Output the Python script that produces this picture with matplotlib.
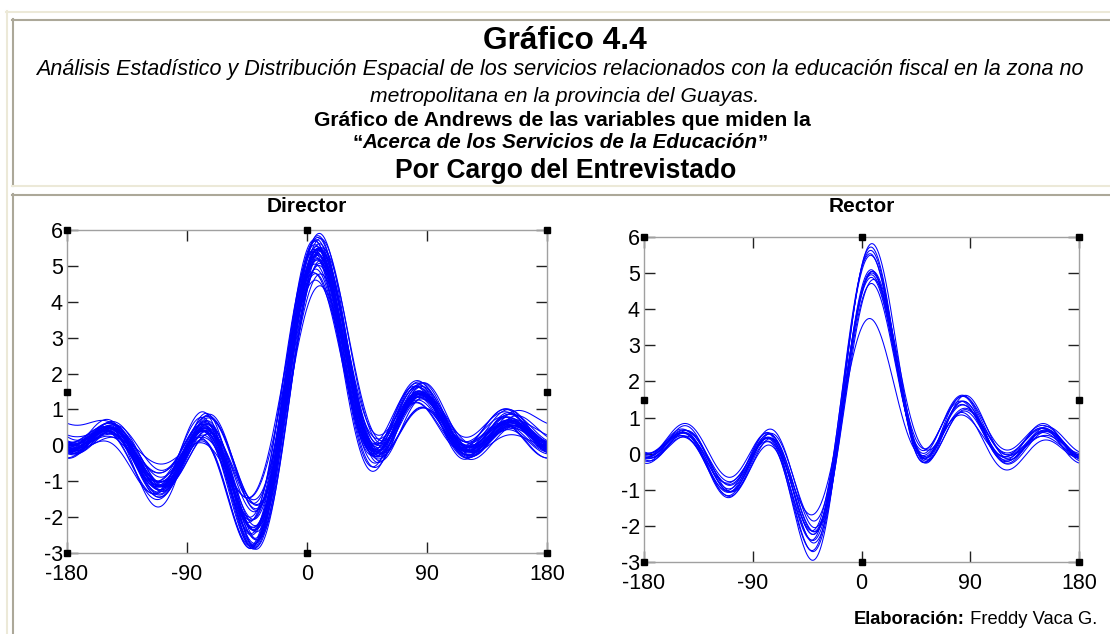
import numpy as np
import matplotlib.pyplot as plt

plt.rcParams['font.family'] = ['Liberation Sans', 'DejaVu Sans']
plt.rcParams['axes.unicode_minus'] = False

# Variables of the survey block, one row per respondent
director = [
    [0.91, 0.75, 1.04, 0.43, 0.96, 0.26, 0.87, 0.58, 0.96, 0.59, 0.81],
    [0.65, 0.97, 0.63, 0.35, 0.63, 0.52, 0.71, 0.47, 1.13, 0.23, 0.99],
    [1.01, 0.70, 0.91, 0.38, 1.03, 0.50, 0.74, 0.78, 0.91, 0.55, 0.87],
    [0.60, 0.84, 0.58, 0.40, 0.87, 0.39, 0.91, 0.42, 1.09, 0.29, 1.09],
    [0.72, 0.49, 0.82, 0.46, 0.74, 0.54, 0.53, 0.58, 0.81, 0.49, 0.66],
    [0.56, 0.92, 0.83, 0.52, 1.08, 0.35, 0.88, 0.49, 1.20, 0.25, 0.97],
    [0.90, 0.84, 0.80, 0.77, 0.80, 0.61, 0.70, 0.79, 0.87, 0.47, 0.72],
    [0.71, 0.70, 0.94, 0.38, 0.95, 0.32, 0.89, 0.35, 0.98, 0.11, 0.95],
    [0.72, 0.99, 0.70, 0.68, 0.81, 0.66, 0.60, 0.61, 0.77, 0.49, 0.91],
    [0.81, 0.55, 0.80, 0.34, 0.95, 0.17, 0.66, 0.20, 0.95, 0.25, 0.72],
    [0.68, 0.96, 0.77, 0.55, 0.77, 0.54, 0.56, 0.69, 1.02, 0.37, 1.12],
    [0.66, 0.80, 0.63, 0.47, 0.85, 0.69, 0.66, 0.57, 1.05, 0.22, 1.04],
    [0.83, 0.59, 0.95, 0.49, 1.09, 0.34, 0.73, 0.59, 0.79, 0.49, 0.77],
    [0.50, 0.89, 0.70, 0.71, 0.72, 0.39, 0.73, 0.31, 1.04, 0.20, 0.92],
    [0.96, 0.80, 1.08, 0.50, 0.93, 0.55, 0.61, 0.72, 0.91, 0.51, 0.75],
    [0.74, 1.05, 0.74, 0.58, 0.96, 0.30, 0.89, 0.46, 1.09, 0.21, 1.08],
    [0.87, 0.59, 0.70, 0.49, 0.59, 0.46, 0.51, 0.52, 0.67, 0.42, 0.74],
    [0.67, 0.81, 0.87, 0.38, 1.01, 0.34, 0.83, 0.36, 1.14, 0.34, 1.13],
    [0.80, 0.89, 0.67, 0.71, 0.80, 0.57, 0.58, 0.74, 0.97, 0.64, 0.84],
    [0.77, 0.58, 0.89, 0.39, 0.92, 0.21, 0.85, 0.46, 1.16, 0.24, 0.86],
    [0.58, 0.92, 0.69, 0.63, 0.68, 0.60, 0.69, 0.77, 0.88, 0.38, 0.95],
    [0.73, 0.53, 0.74, 0.35, 0.88, 0.25, 0.81, 0.30, 0.83, 0.28, 0.57],
    [0.86, 0.80, 0.95, 0.52, 0.95, 0.38, 0.83, 0.59, 1.00, 0.51, 0.88],
    [0.73, 0.91, 0.75, 0.59, 0.78, 0.51, 0.75, 0.54, 1.08, 0.33, 0.97],
    [0.82, 0.69, 0.80, 0.40, 0.89, 0.41, 0.68, 0.60, 0.88, 0.40, 0.82],
    [0.74, 0.88, 0.75, 0.65, 0.93, 0.48, 0.88, 0.54, 1.09, 0.39, 1.05],
    [0.82, 0.72, 0.89, 0.58, 0.89, 0.57, 0.71, 0.64, 0.97, 0.51, 0.86],
    [0.64, 0.84, 0.80, 0.52, 0.96, 0.38, 0.79, 0.50, 1.07, 0.30, 0.92],
    [0.83, 0.82, 0.81, 0.66, 0.84, 0.53, 0.72, 0.67, 0.93, 0.43, 0.81],
    [0.69, 0.71, 0.83, 0.42, 0.87, 0.34, 0.77, 0.41, 0.94, 0.20, 0.88],
    [0.78, 0.93, 0.79, 0.65, 0.88, 0.59, 0.71, 0.62, 0.91, 0.47, 0.94],
    [0.85, 0.74, 0.87, 0.51, 0.98, 0.38, 0.77, 0.44, 1.03, 0.38, 0.88],
    [0.73, 0.89, 0.80, 0.68, 0.84, 0.51, 0.66, 0.63, 1.01, 0.39, 1.02],
    [0.77, 0.81, 0.82, 0.56, 0.89, 0.46, 0.75, 0.56, 0.99, 0.39, 0.91],
    [0.72, 0.78, 0.79, 0.53, 0.86, 0.43, 0.72, 0.53, 0.96, 0.36, 0.88],
    [0.79, 0.80, 0.83, 0.55, 0.90, 0.46, 0.76, 0.55, 1.00, 0.38, 0.92],
    [0.75, 0.79, 0.80, 0.54, 0.87, 0.44, 0.73, 0.54, 0.97, 0.37, 0.89],
    [0.80, 0.75, 0.55, 0.60, 0.95, 0.50, 0.55, 0.55, 1.00, 0.40, 0.80],
]

rector = [
    [0.89, 0.79, 0.91, 0.60, 0.93, 0.42, 0.85, 0.61, 0.95, 0.54, 0.90],
    [0.76, 0.87, 0.71, 0.72, 0.91, 0.51, 0.90, 0.55, 1.04, 0.41, 1.07],
    [0.70, 0.85, 0.80, 0.64, 0.97, 0.45, 0.84, 0.56, 1.05, 0.36, 0.97],
    [0.78, 0.78, 0.86, 0.56, 0.92, 0.45, 0.86, 0.49, 0.96, 0.30, 0.97],
    [0.88, 0.70, 0.82, 0.59, 0.95, 0.41, 0.78, 0.46, 0.97, 0.40, 0.89],
    [0.73, 0.73, 0.71, 0.57, 0.80, 0.43, 0.70, 0.51, 0.87, 0.35, 0.86],
    [0.80, 0.67, 0.75, 0.44, 0.84, 0.42, 0.69, 0.59, 0.80, 0.40, 0.81],
    [0.79, 0.70, 0.68, 0.67, 0.72, 0.50, 0.64, 0.62, 0.78, 0.39, 0.73],
    [0.65, 0.78, 0.65, 0.64, 0.72, 0.43, 0.58, 0.54, 0.86, 0.31, 0.93],
    [0.56, 0.56, 0.54, 0.40, 0.63, 0.26, 0.53, 0.34, 0.70, 0.18, 0.69],
    [0.75, 0.98, 0.72, 0.58, 0.80, 0.45, 0.71, 0.52, 0.87, 0.36, 0.86],
    [0.70, 0.50, 0.70, 0.72, 0.78, 0.42, 0.70, 0.50, 0.86, 0.34, 0.85],
    [0.73, 0.88, 0.68, 0.63, 0.72, 0.51, 0.73, 0.52, 0.99, 0.32, 0.94],
    [0.75, 0.60, 0.78, 0.56, 0.79, 0.53, 0.65, 0.58, 0.84, 0.46, 0.80],
]

panel_titles = ['Director', 'Rector']
xticks = [-180, -90, 0, 90, 180]
yticks = [-3, -2, -1, 0, 1, 2, 3, 4, 5, 6]

W, H = 1110, 634


def fx(px):
    return px / W


def fy(py):
    return 1 - py / H


def andrews(rows, deg):
    # f(t) = x1/sqrt(2) + x2 sin t + x3 cos t + x4 sin 2t + x5 cos 2t + ...
    t = np.deg2rad(deg)
    X = np.asarray(rows, float)
    cols = [np.full_like(t, 1 / np.sqrt(2))]
    k = 1
    while len(cols) < X.shape[1]:
        cols.append(np.sin(k * t))
        if len(cols) < X.shape[1]:
            cols.append(np.cos(k * t))
        k += 1
    return X @ np.vstack(cols)


fig = plt.figure(figsize=(W / 100, H / 100), dpi=100)

# table-like frame of the page
bg = fig.add_axes([0, 0, 1, 1])
bg.set_xlim(0, W)
bg.set_ylim(H, 0)
bg.axis('off')
beige, grey = '#ECE9D8', '#ACA899'
bg.plot([6, W], [12, 12], color=beige, lw=1.5)
bg.plot([7, 7], [11, H], color=beige, lw=1.5)
bg.plot([12, W], [19.5, 19.5], color=grey, lw=1.5)
bg.plot([13, 13], [19, 186], color=grey, lw=1.5)
bg.plot([12, W], [186, 186], color=beige, lw=1.5)
bg.plot([12, W], [194.5, 194.5], color=grey, lw=1.5)
bg.plot([13, 13], [194, H], color=grey, lw=1.5)

renderer = fig.canvas.get_renderer()


def runs(x, y, parts, size, ha='center'):
    # draw pieces of text with mixed styles on one line
    objs = [fig.text(0, fy(y), s, fontsize=size, fontweight=w, fontstyle=st,
                     va='center') for s, w, st in parts]
    widths = [o.get_window_extent(renderer).width for o in objs]
    x0 = x - sum(widths) / 2 if ha == 'center' else x - sum(widths)
    for o, w in zip(objs, widths):
        o.set_x(fx(x0))
        x0 += w


fig.text(fx(565), fy(41), 'Gráfico 4.4', fontsize=22.8, fontweight='bold',
         ha='center', va='center')
fig.text(fx(560), fy(70), 'Análisis Estadístico y Distribución Espacial de los servicios '
         'relacionados con la educación fiscal en la zona no', fontsize=15.5,
         fontstyle='italic', ha='center', va='center')
fig.text(fx(565), fy(96), 'metropolitana en la provincia del Guayas.', fontsize=15.2,
         fontstyle='italic', ha='center', va='center')
fig.text(fx(562), fy(121), 'Gráfico de Andrews de las variables que miden la',
         fontsize=15.2, fontweight='bold', ha='center', va='center')
runs(560, 143, [('“', 'bold', 'normal'),
                ('Acerca de los Servicios de la Educación', 'bold', 'italic'),
                ('”', 'bold', 'normal')], 14.9)
fig.text(fx(566), fy(171), 'Por Cargo del Entrevistado', fontsize=19.1,
         fontweight='bold', ha='center', va='center')

runs(1097, 620, [('Elaboración:', 'bold', 'normal'),
                 (' Freddy Vaca G.', 'normal', 'normal')], 13.2, ha='right')

boxes = [(67, 230, 547, 553), (644, 237, 1079, 562)]
tt = np.linspace(-180, 180, 721)
for (x0, y0, x1, y1), rows, title in zip(boxes, (director, rector), panel_titles):
    ax = fig.add_axes([fx(x0), fy(y1), (x1 - x0) / W, (y1 - y0) / H])
    curves = andrews(rows, tt)
    for c in curves:
        ax.plot(tt, c, color='#0000FF', lw=0.75)
    ax.set_xlim(-180, 180)
    ax.set_ylim(-3, 6)
    ax.set_xticks(xticks)
    ax.set_yticks(yticks)
    ax.tick_params(direction='in', length=8, width=1, color='#222222',
                   top=True, right=True, labelsize=15.5)
    ax.tick_params(axis='x', pad=8)
    ax.tick_params(axis='y', pad=3)
    for s in ax.spines.values():
        s.set_color('#A0A0A0')
        s.set_linewidth(1)
    # selection handles at corners and edge midpoints
    hx = [-180, 0, 180, -180, 180, -180, 0, 180]
    hy = [6, 6, 6, 1.5, 1.5, -3, -3, -3]
    ax.plot(hx, hy, 's', color='black', ms=4.5, clip_on=False, zorder=5)
    fig.text(fx((x0 + x1) / 2), fy(207), title, fontsize=15, fontweight='bold',
             ha='center', va='center')

fig.savefig('out.png', dpi=100)
